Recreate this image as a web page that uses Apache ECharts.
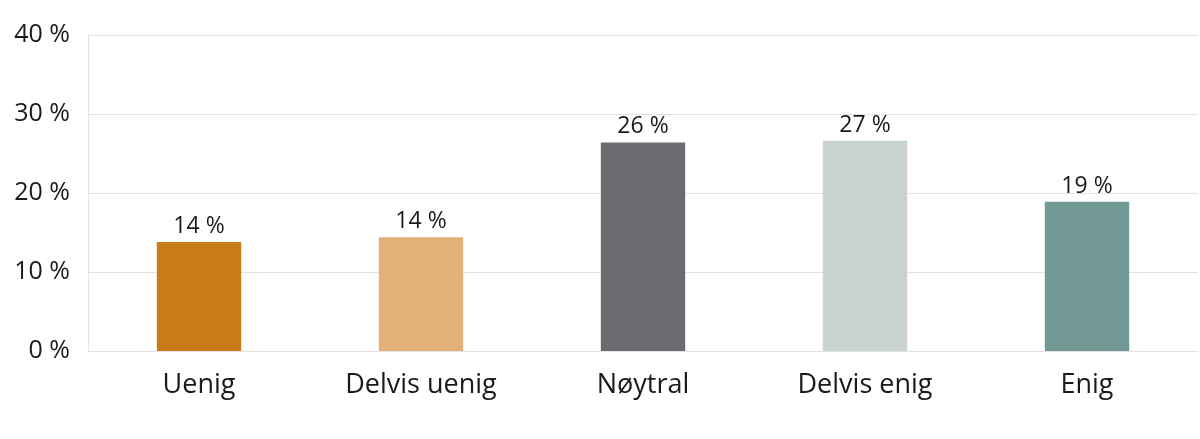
<!DOCTYPE html>
<html>
<head>
<meta charset="utf-8">
<script src="https://cdn.jsdelivr.net/npm/echarts@6/dist/echarts.min.js"></script>
<style>html,body{margin:0;padding:0;background:#fff}#c{width:1200px;height:439px}</style>
</head>
<body>
<div id="c"></div>
<script>
const categories = ["Uenig", "Delvis uenig", "Nøytral", "Delvis enig", "Enig"];
const values = [13.8, 14.4, 26.4, 26.6, 18.9];
const colors = ["#C97B17", "#E4B07A", "#6B6C6F", "#C8D3D2", "#729893"];
const yTicks = [0, 10, 20, 30, 40];

const chart = echarts.init(document.getElementById('c'), null, {renderer: 'canvas'});
chart.setOption({
  animation: false,
  grid: {left: 88, right: 2, top: 35, bottom: 88, containLabel: false},
  xAxis: {
    type: 'category',
    data: categories,
    axisLine: {show: true, lineStyle: {color: '#e3e3e3', width: 1}},
    axisTick: {show: false},
    axisLabel: {color: '#1a1a1a', fontFamily: 'Open Sans', fontSize: 27, margin: 21}
  },
  yAxis: {
    type: 'value',
    min: yTicks[0], max: yTicks[yTicks.length - 1], interval: 10,
    axisLine: {show: true, lineStyle: {color: '#e3e3e3', width: 1}},
    axisTick: {show: false},
    splitLine: {lineStyle: {color: '#e3e3e3', width: 1}},
    axisLabel: {color: '#1a1a1a', fontFamily: 'Open Sans', fontSize: 25, margin: 18,
      padding: [5, 0, 0, 0],
      formatter: v => v + ' %'}
  },
  series: [{
    type: 'bar',
    data: values.map((v, i) => ({value: v, itemStyle: {color: colors[i]}})),
    barWidth: '38%',
    label: {show: true, position: 'top', distance: 4, color: '#1a1a1a',
      fontFamily: 'Open Sans', fontSize: 23,
      formatter: p => Math.round(p.value) + ' %'}
  }]
});
</script>
</body>
</html>
